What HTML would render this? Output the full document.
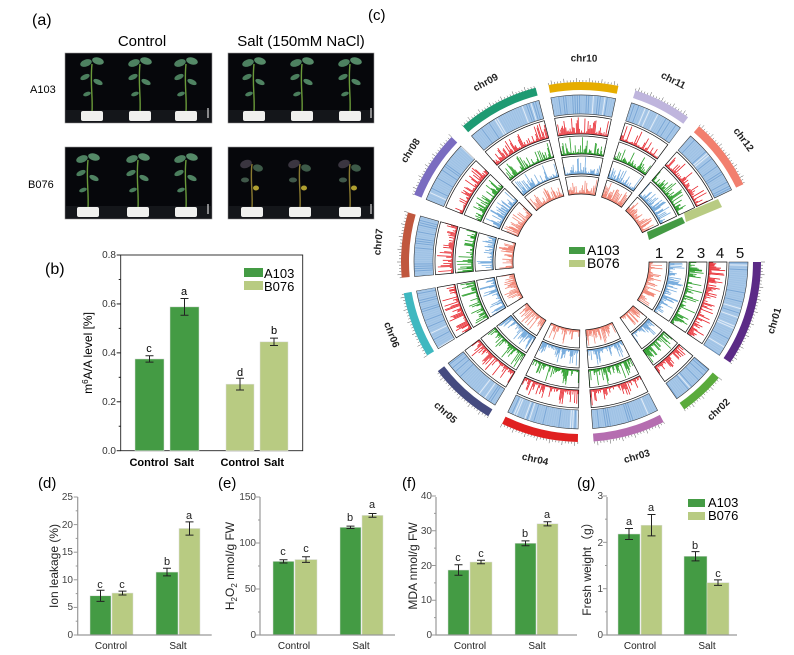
<!DOCTYPE html>
<html><head><meta charset="utf-8"><style>
html,body{margin:0;padding:0;background:#fff;}
svg{display:block;font-family:"Liberation Sans",Arial,sans-serif;}
.t{font-size:10px;fill:#444;}
</style></head><body>
<svg id="s" width="794" height="655" viewBox="0 0 794 655" xmlns="http://www.w3.org/2000/svg">
<defs>
<g id="pl">
 <path d="M0,0 C1,-15 -2,-30 0,-48" stroke="#6a9a3a" stroke-width="1.4" fill="none"/>
 <ellipse cx="-6" cy="-49" rx="6" ry="3.5" fill="#4d8060" transform="rotate(-20 -6 -49)"/>
 <ellipse cx="6" cy="-51" rx="6" ry="3.5" fill="#558a68" transform="rotate(15 6 -51)"/>
 <ellipse cx="-7" cy="-35" rx="5" ry="2.5" fill="#4a7d5c" transform="rotate(-25 -7 -35)"/>
 <ellipse cx="6" cy="-30" rx="5" ry="2.5" fill="#4f8362" transform="rotate(25 6 -30)"/>
 <ellipse cx="-5" cy="-18" rx="4" ry="2" fill="#4a7d5c" transform="rotate(-20 -5 -18)"/>
</g>
<g id="pld">
 <path d="M0,0 C1,-15 -2,-30 0,-44" stroke="#8a7a30" stroke-width="1.4" fill="none"/>
 <ellipse cx="-6" cy="-44" rx="6" ry="4" fill="#3a3540" transform="rotate(-20 -6 -44)"/>
 <ellipse cx="6" cy="-40" rx="5" ry="3.5" fill="#3d5a48" transform="rotate(15 6 -40)"/>
 <ellipse cx="-7" cy="-28" rx="4" ry="2.5" fill="#40584a"/>
 <ellipse cx="4" cy="-20" rx="3" ry="2.5" fill="#b0a030"/>
</g>
<g id="pot"><rect x="-11" y="-9" width="22" height="10" rx="2" fill="#f0f0ee"/></g>
</defs>

<text x="32" y="25" font-size="16">(a)</text>
<text x="142" y="46" font-size="15" text-anchor="middle">Control</text>
<text x="301" y="46" font-size="15" text-anchor="middle">Salt (150mM NaCl)</text>
<text x="30" y="93" font-size="11">A103</text>
<text x="28" y="188" font-size="11">B076</text>
<g>
<rect x="65" y="53" width="147" height="70" fill="#06070b" stroke="#999" stroke-width="0.6"/>
<rect x="228" y="53" width="146" height="70" fill="#06070b" stroke="#999" stroke-width="0.6"/>
<rect x="65" y="147" width="147" height="72" fill="#06070b" stroke="#999" stroke-width="0.6"/>
<rect x="228" y="147" width="146" height="72" fill="#06070b" stroke="#999" stroke-width="0.6"/>
<rect x="66" y="110" width="145" height="12" fill="#14161a"/>
<rect x="229" y="110" width="144" height="12" fill="#14161a"/>
<rect x="66" y="206" width="145" height="12" fill="#14161a"/>
<rect x="229" y="206" width="144" height="12" fill="#14161a"/>
<use href="#pl" x="92" y="112"/><use href="#pot" x="92" y="120"/>
<use href="#pl" x="140" y="112"/><use href="#pot" x="140" y="120"/>
<use href="#pl" x="186" y="112"/><use href="#pot" x="186" y="120"/>
<use href="#pl" x="254" y="112"/><use href="#pot" x="254" y="120"/>
<use href="#pl" x="302" y="112"/><use href="#pot" x="302" y="120"/>
<use href="#pl" x="350" y="112"/><use href="#pot" x="350" y="120"/>
<use href="#pl" x="88" y="208"/><use href="#pot" x="88" y="216"/>
<use href="#pl" x="138" y="208"/><use href="#pot" x="138" y="216"/>
<use href="#pl" x="186" y="208"/><use href="#pot" x="186" y="216"/>
<use href="#pld" x="252" y="208"/><use href="#pot" x="252" y="216"/>
<use href="#pld" x="300" y="208"/><use href="#pot" x="300" y="216"/>
<use href="#pld" x="350" y="208"/><use href="#pot" x="350" y="216"/>
<g stroke="#fff" stroke-width="1"><line x1="208" y1="108" x2="208" y2="118"/><line x1="371" y1="108" x2="371" y2="118"/><line x1="208" y1="204" x2="208" y2="214"/><line x1="371" y1="204" x2="371" y2="214"/></g>
</g>

<text x="45" y="274" font-size="16">(b)</text>
<rect x="120.7" y="255" width="182" height="195.7" fill="none" stroke="#222" stroke-width="0.9"/>
<g class="t" text-anchor="end" style="fill:#333;font-size:10px">
<text x="116" y="454">0.0</text><text x="116" y="405">0.2</text><text x="116" y="356">0.4</text><text x="116" y="307">0.6</text><text x="116" y="258">0.8</text></g>
<text transform="translate(92,353) rotate(-90)" font-size="12" text-anchor="middle">m<tspan dy="-4" font-size="8">6</tspan><tspan dy="4">A/A level [%]</tspan></text>
<g font-size="11" font-weight="bold" text-anchor="middle"><text x="149" y="466">Control</text><text x="184" y="466">Salt</text><text x="240" y="466">Control</text><text x="274" y="466">Salt</text></g>
<g font-size="11" text-anchor="middle"><text x="149" y="352">c</text><text x="184" y="295">a</text><text x="240" y="376">d</text><text x="274" y="334">b</text></g>
<rect x="244" y="268" width="19" height="9" fill="#449b44"/><rect x="244" y="281" width="19" height="9" fill="#b8cb82"/>
<text x="264" y="278" font-size="13">A103</text><text x="264" y="291" font-size="13">B076</text>

<text x="38" y="488" font-size="15">(d)</text>
<text x="218" y="488" font-size="15">(e)</text>
<text x="402" y="488" font-size="15">(f)</text>
<text x="577" y="488" font-size="15">(g)</text>
<g class="t" text-anchor="end">
<text x="73" y="638">0</text><text x="73" y="610">5</text><text x="73" y="583">10</text><text x="73" y="555">15</text><text x="73" y="528">20</text><text x="73" y="500">25</text>
<text x="256" y="638">0</text><text x="256" y="592">50</text><text x="256" y="546">100</text><text x="256" y="500">150</text>
<text x="432" y="638">0</text><text x="432" y="603">10</text><text x="432" y="569">20</text><text x="432" y="534">30</text><text x="432" y="499">40</text>
<text x="603" y="638">0</text><text x="603" y="592">1</text><text x="603" y="546">2</text><text x="603" y="499">3</text>
</g>
<g font-size="10" text-anchor="middle" fill="#222">
<text x="111" y="649">Control</text><text x="178" y="649">Salt</text>
<text x="294" y="649">Control</text><text x="361" y="649">Salt</text>
<text x="470" y="649">Control</text><text x="537" y="649">Salt</text>
<text x="640" y="649">Control</text><text x="707" y="649">Salt</text>
</g>
<g font-size="12" text-anchor="middle" fill="#222">
<text transform="translate(58,566) rotate(-90)">Ion leakage (%)</text>
<text transform="translate(234,566) rotate(-90)">H<tspan font-size="8" dy="3">2</tspan><tspan dy="-3">O</tspan><tspan font-size="8" dy="3">2</tspan><tspan dy="-3"> nmol/g FW</tspan></text>
<text transform="translate(417,566) rotate(-90)">MDA nmol/g FW</text>
<text transform="translate(591,566) rotate(-90)">Fresh weight（g）</text>
</g>
<g font-size="11" text-anchor="middle" fill="#222">
<text x="100" y="588">c</text><text x="122" y="588">c</text><text x="167" y="565">b</text><text x="189" y="519">a</text>
<text x="283" y="555">c</text><text x="306" y="552">c</text><text x="350" y="521">b</text><text x="372" y="508">a</text>
<text x="458" y="561">c</text><text x="481" y="557">c</text><text x="525" y="537">b</text><text x="547" y="518">a</text>
<text x="629" y="525">a</text><text x="651" y="511">a</text><text x="695" y="549">b</text><text x="718" y="577">c</text>
</g>
<rect x="688" y="499" width="17" height="8" fill="#449b44"/><rect x="688" y="512" width="17" height="8" fill="#b8cb82"/>
<text x="708" y="507" font-size="13">A103</text><text x="708" y="520" font-size="13">B076</text>

<text x="368" y="20" font-size="15">(c)</text>
<g id="circ"></g>
<g font-size="10" font-weight="bold" text-anchor="middle" dominant-baseline="central" fill="#222">
<text transform="translate(775,321) rotate(-73)">chr01</text>
<text transform="translate(719,410) rotate(-43)">chr02</text>
<text transform="translate(637,457) rotate(-16)">chr03</text>
<text transform="translate(535,460) rotate(13)">chr04</text>
<text transform="translate(445,413) rotate(42)">chr05</text>
<text transform="translate(391,335) rotate(69)">chr06</text>
<text transform="translate(379,242) rotate(-84.5)">chr07</text>
<text transform="translate(411,151) rotate(-57)">chr08</text>
<text transform="translate(486,83) rotate(-28)">chr09</text>
<text transform="translate(584,59) rotate(1)">chr10</text>
<text transform="translate(673,81) rotate(27)">chr11</text>
<text transform="translate(743,140) rotate(53)">chr12</text>
</g>
<g font-size="15" text-anchor="middle" fill="#111">
<text x="659" y="258">1</text><text x="680" y="258">2</text><text x="701" y="258">3</text><text x="720" y="258">4</text><text x="740" y="258">5</text>
</g>
<polygon points="647,232 682,217 685,223 649,240" fill="#449b44"/>
<polygon points="684,213 718,199 722,207 686,222" fill="#b8cb82"/>
<rect x="569" y="247" width="16" height="7" fill="#449b44"/><rect x="569" y="260" width="16" height="7" fill="#b8cb82"/>
<text x="587" y="255" font-size="14">A103</text><text x="587" y="268" font-size="14">B076</text>
</svg>
<script>
(function(){
var NS="http://www.w3.org/2000/svg",s=document.getElementById("s"),C=document.getElementById("circ");
function el(t,a,p){var e=document.createElementNS(NS,t);for(var k in a)e.setAttribute(k,a[k]);(p||s).appendChild(e);return e;}
var seed=7;function rnd(){seed=(seed*16807)%2147483647;return (seed-1)/2147483646;}
var G="#449b44",L="#b8cb82";
function bars(bot,sc,list){list.forEach(function(b){var x=b[0],w=b[1],v=b[2],e=b[3],c=b[4];
 el("rect",{x:x,y:bot-v*sc,width:w,height:v*sc,fill:c,stroke:"#ddd","stroke-width":0.5});
 var cx=x+w/2,y1=bot-(v-e)*sc,y2=bot-(v+e)*sc;
 el("path",{d:"M"+cx+","+y1+"V"+y2+"M"+(cx-4)+","+y1+"h8M"+(cx-4)+","+y2+"h8",stroke:"#222","stroke-width":1,fill:"none"});});}
bars(450.7,244.6,[[135,29,.375,.013,G],[170,29,.588,.034,G],[226,28,.272,.024,L],[260,28,.445,.015,L]]);
bars(635,5.52,[[90,21,7.1,1,G],[112,21,7.6,.35,L],[156,22,11.4,.7,G],[179,21,19.3,1.2,L]]);
bars(635,.92,[[273,21,80,1.8,G],[295,22,82,3,L],[340,21,117,1.3,G],[362,21,130,2,L]]);
bars(635,3.475,[[448,21,18.7,1.5,G],[470,22,21,.5,L],[515,21,26.4,.7,G],[537,21,32,.6,L]]);
bars(635,46.33,[[618,22,2.18,.12,G],[641,21,2.37,.23,L],[684,23,1.7,.1,G],[707,22,1.13,.06,L]]);
[[77.7,211.7,[25,5],5.52],[260,395,[150,50],.92],[436,577,[40,10],3.475],[607,737,[3,1],46.33]].forEach(function(a){
 el("path",{d:"M"+a[0]+",497V635H"+a[1],stroke:"#999","stroke-width":1.2,fill:"none"});
 for(var v=0;v<=a[2][0]+1e-9;v+=a[2][1]/2){var y=635-v*a[3];var big=Math.abs(v/a[2][1]-Math.round(v/a[2][1]))<1e-6;
  el("line",{x1:a[0]-(big?4:2),x2:a[0],y1:y,y2:y,stroke:"#999","stroke-width":1});}
});
for(var v=0;v<=.81;v+=.1){var y=450.7-v*244.6;el("line",{x1:120.7-((Math.round(v*10)%2==0)?4:2),x2:120.7,y1:y,y2:y,stroke:"#222","stroke-width":1});}
var cx=581,cy=262,R=Math.PI/180;
function P(r,a){return [cx+r*Math.cos(a*R),cy+r*Math.sin(a*R)];}
function sec(r1,r2,a1,a2){var p1=P(r2,a1),p2=P(r2,a2),p3=P(r1,a2),p4=P(r1,a1),lg=(a2-a1)>180?1:0;
 return "M"+p1+"A"+r2+","+r2+" 0 "+lg+" 1 "+p2+"L"+p3+"A"+r1+","+r1+" 0 "+lg+" 0 "+p4+"Z";}
var chr=[[0,34,"#5b2a86"],[40,55,"#5aab3c"],[62.7,86,"#b56db0"],[91,116,"#e02020"],[121,142.7,"#454b80"],[148.7,170,"#3fb8c0"],[175,196,"#c0573e"],[202,224,"#7a6cc0"],[229,255.4,"#1d9a72"],[259.6,282,"#e6ad00"],[287.6,306.5,"#bfb5dd"],[311,334.4,"#f27f6e"]];
var tr=[[68,86,"#f28a7a"],[88,106,"#7aaede"],[108,126,"#2ea02e"],[128,146,"#e8232a"]];
chr.forEach(function(c){var a1=c[0],a2=c[1];
 el("path",{d:sec(172,180,a1,a2),fill:c[2]},C);
 for(var a=a1;a<=a2+1e-6;a+=1){var p=P(180,a),q=P(a%4<1?184:182,a);el("line",{x1:p[0],y1:p[1],x2:q[0],y2:q[1],stroke:"#555","stroke-width":0.5},C);}
 el("path",{d:sec(148,167,a1,a2),fill:"#a8c8e8",stroke:"#333","stroke-width":0.6},C);
 for(var a=a1+0.3;a<a2;a+=0.8){var v=rnd();var col=v<0.25?"#6f9fd2":(v>0.9?"#eef4fb":"#9cc0e4");var p=P(148.5,a),q=P(166.5,a);el("line",{x1:p[0],y1:p[1],x2:q[0],y2:q[1],stroke:col,"stroke-width":1,opacity:0.8},C);}
 tr.forEach(function(t){
  var d="";for(var a=a1+0.3;a<a2;a+=0.45){var h=(t[1]-t[0]-1)*(0.08+0.92*Math.pow(rnd(),3));var p=P(t[0],a),q=P(t[0]+h,a);d+="M"+p[0].toFixed(1)+","+p[1].toFixed(1)+"L"+q[0].toFixed(1)+","+q[1].toFixed(1);}
  el("path",{d:d,stroke:t[2],"stroke-width":0.8,fill:"none"},C);
  el("path",{d:sec(t[0],t[1],a1,a2),fill:"none",stroke:"#111","stroke-width":0.7},C);
 });
});
})();
</script>
</body></html>
